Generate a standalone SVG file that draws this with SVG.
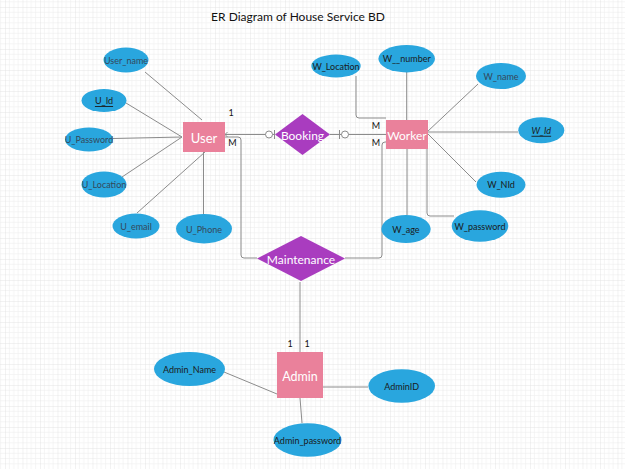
<svg xmlns="http://www.w3.org/2000/svg" width="625" height="469" viewBox="0 0 625 469">
<defs>
<pattern id="grid" width="17.5" height="21" patternUnits="userSpaceOnUse" x="5" y="7">
<path d="M4.375,0V21M8.75,0V21M13.125,0V21M0,5.25H17.5M0,10.5H17.5M0,15.75H17.5" stroke="#efefef" stroke-width="0.6" fill="none"/>
<path d="M0,0V21M0,0H17.5" stroke="#dedede" stroke-width="0.8" fill="none"/>
</pattern>
</defs>
<style>
.ent{fill:#EA819B}
.rel{fill:#A93CBF}
.att{fill:#29A6DE}
.wt{font-family:Lato,"Liberation Sans",sans-serif;fill:#ffffff;text-anchor:middle;dominant-baseline:central}
.at{font-family:Lato,"Liberation Sans",sans-serif;fill:#1a1a1a;font-size:9px;text-anchor:middle;dominant-baseline:central}
.ag{fill:#34485a}
.ln{stroke:#8c8c8c;stroke-width:1;fill:none}
.cd{font-family:Lato,"Liberation Sans",sans-serif;fill:#111;font-size:9px;text-anchor:middle;dominant-baseline:central}
</style>
<rect width="625" height="469" fill="#ffffff"/>
<rect width="625" height="469" fill="url(#grid)"/>
<text x="298" y="16" font-family="Lato,'Liberation Sans',sans-serif" font-size="12" fill="#111" text-anchor="middle" dominant-baseline="central">ER Diagram of House Service BD</text>

<g id="connectors">
<path class="ln" d="M145,72 L202,120"/>
<path class="ln" d="M126,103 L182,137"/>
<path class="ln" d="M113,138.5 L182,137"/>
<path class="ln" d="M122,177 L182,137"/>
<path class="ln" d="M137,213 L205,152"/>
<path class="ln" d="M203.5,152 V214"/>
<path class="ln" d="M225,134.5 H275"/>
<circle cx="269" cy="134.5" r="3.5" fill="#fff" stroke="#8c8c8c"/>
<path class="ln" d="M274.5,130 V139"/>
<path class="ln" d="M330,134.5 H386"/>
<path class="ln" d="M339.5,130 V139"/>
<circle cx="345" cy="134.5" r="3.5" fill="#fff" stroke="#8c8c8c"/>
<path class="ln" d="M227.5,132 L225,134.5 L227.5,137"/>
<path class="ln" d="M225,137 H238 Q241,137 241,140 V255 Q241,258 244,258 H257"/>
<path class="ln" d="M386,142 H385 Q382,142 382,145 V255 Q382,258 379,258 H345"/>
<path class="ln" d="M300,282 V352"/>
<path class="ln" d="M356,76 V115 Q356,118 359,118 H386"/>
<path class="ln" d="M406.7,72 V120"/>
<path class="ln" d="M478,84 L427,132"/>
<path class="ln" d="M428,132 H518"/>
<path class="ln" d="M476,182 L427,133"/>
<path class="ln" d="M407,149 V215"/>
<path class="ln" d="M427,149 V213 Q427,216 430,216 H454"/>
<path class="ln" d="M224,372 L277,394"/>
<path class="ln" d="M323,387 H368"/>
<path class="ln" d="M300,398 L302,423"/>
<text class="cd" x="231" y="112.5">1</text>
<text class="cd" x="232.5" y="142">M</text>
<text class="cd" x="376" y="125">M</text>
<text class="cd" x="376" y="142">M</text>
<text class="cd" x="290" y="343">1</text>
<text class="cd" x="307" y="343">1</text>
</g>

<g id="User">
<rect class="ent" x="183" y="122" width="42" height="30"/>
<text class="wt" x="204" y="137.5" font-size="13">User</text>
</g>
<g id="Worker">
<rect class="ent" x="386" y="120" width="42" height="29"/>
<text class="wt" x="407" y="135" font-size="12">Worker</text>
</g>
<g id="Admin">
<rect class="ent" x="277" y="352" width="46" height="46"/>
<text class="wt" x="300" y="376" font-size="12.5">Admin</text>
</g>
<g id="Booking">
<polygon class="rel" points="302.5,114 330,134.5 302.5,155 275,134.5"/>
<text class="wt" x="302.5" y="135" font-size="12">Booking</text>
</g>
<g id="Maintenance">
<polygon class="rel" points="301,236 345,258.5 301,281 257,258.5"/>
<text class="wt" x="301" y="259" font-size="12">Maintenance</text>
</g>

<g id="User_name">
<ellipse class="att" cx="126" cy="60" rx="22.5" ry="12.5"/>
<text class="at ag" x="126" y="60">User_name</text>
</g>
<g id="U_Id">
<ellipse class="att" cx="104" cy="100.5" rx="22.5" ry="11.5"/>
<text class="at" x="104" y="100.5" text-decoration="underline">U_Id</text>
</g>
<g id="U_Password">
<ellipse class="att" cx="89" cy="139.5" rx="24" ry="12"/>
<text class="at ag" x="89" y="139.5">U_Password</text>
</g>
<g id="U_Location">
<ellipse class="att" cx="104" cy="184.5" rx="22.5" ry="13"/>
<text class="at ag" x="104" y="184.5">U_Location</text>
</g>
<g id="U_email">
<ellipse class="att" cx="136" cy="226" rx="23.5" ry="12.5"/>
<text class="at ag" x="136" y="226">U_email</text>
</g>
<g id="U_Phone">
<ellipse class="att" cx="204" cy="228.7" rx="28" ry="14.7"/>
<text class="at ag" x="204" y="229">U_Phone</text>
</g>

<g id="W_Location">
<ellipse class="att" cx="336" cy="66" rx="24.7" ry="11.5"/>
<text class="at" x="336" y="66" font-size="8">W_Location</text>
</g>
<g id="W__number">
<ellipse class="att" cx="406.7" cy="58.7" rx="28.3" ry="13.7"/>
<text class="at" x="406.7" y="58.7">W__number</text>
</g>
<g id="W_name">
<ellipse class="att" cx="501" cy="76" rx="25" ry="13"/>
<text class="at ag" x="501" y="76">W_name</text>
</g>
<g id="W_Id">
<ellipse class="att" cx="541.3" cy="130.3" rx="23" ry="13"/>
<text class="at" x="541.3" y="130.3" font-style="italic" text-decoration="underline">W_Id</text>
</g>
<g id="W_NId">
<ellipse class="att" cx="501" cy="184.7" rx="24.5" ry="13"/>
<text class="at" x="501" y="184.7">W_NId</text>
</g>
<g id="W_age">
<ellipse class="att" cx="406" cy="229" rx="24.7" ry="14"/>
<text class="at" x="406" y="229">W_age</text>
</g>
<g id="W_password">
<ellipse class="att" cx="480" cy="226" rx="28.3" ry="15.8"/>
<text class="at" x="480" y="226">W_password</text>
</g>

<g id="Admin_Name">
<ellipse class="att" cx="189.5" cy="369" rx="35.5" ry="17"/>
<text class="at" x="189.5" y="369">Admin_Name</text>
</g>
<g id="AdminID">
<ellipse class="att" cx="401.7" cy="386" rx="33.3" ry="16.7"/>
<text class="at" x="401.7" y="386">AdminID</text>
</g>
<g id="Admin_password">
<ellipse class="att" cx="307.5" cy="440" rx="34" ry="16.7"/>
<text class="at" x="307.5" y="440">Admin_password</text>
</g>
</svg>
